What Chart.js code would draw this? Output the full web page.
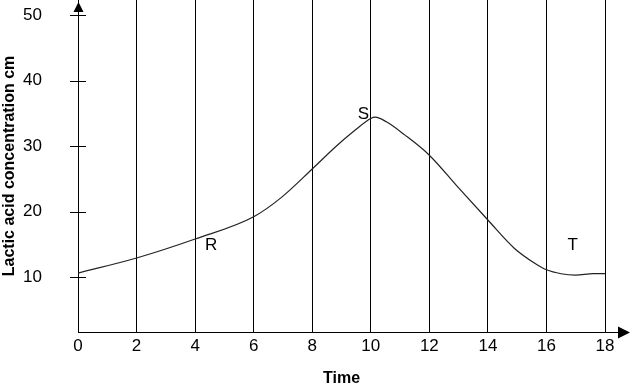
<!DOCTYPE html>
<html lang="en">
<head>
    <meta charset="UTF-8">
    <title>Lactic acid concentration</title>
    <style>
        html, body { margin: 0; padding: 0; background: #fff; }
        .chart-box { width: 631px; height: 386px; }
    </style>
    <script src="https://cdn.jsdelivr.net/npm/chart.js"></script>
</head>
<body>
  <div class="chart-box">
    <canvas id="lacticChart"></canvas>
  </div>
  <script>
    // data
    const timeValues = [0, 2, 4, 6, 6.96, 8, 8.8, 9.46, 10, 10.15, 10.53, 11.16, 12, 13, 14, 14.9, 15.6, 16, 16.5, 17, 17.6, 18];
    const lacticValues = [10.6, 12.9, 15.8, 19.2, 22.2, 26.5, 29.9, 32.4, 34.2, 34.4, 33.7, 31.7, 28.6, 23.6, 18.7, 14.4, 12.1, 11.1, 10.5, 10.3, 10.5, 10.5];
    const xTickValues = [0, 2, 4, 6, 8, 10, 12, 14, 16, 18];
    const yTickValues = [10, 20, 30, 40, 50];
    const markLetters = ['R', 'S', 'T'];
    const markTimes = [4.55, 9.75, 16.9];
    const markLevels = [14.9, 34.9, 14.9];

    const FONT = 'Liberation Sans, Arial, sans-serif';

    // tick marks across the y axis, arrow heads, letters R S T
    const axisExtrasPlugin = {
        id: 'axisExtras',
        afterDraw(chart) {
            const ctx = chart.ctx;
            const xs = chart.scales.x, ys = chart.scales.y;
            const x0 = xs.left, yb = ys.bottom;
            ctx.save();
            ctx.strokeStyle = '#000';
            ctx.fillStyle = '#000';
            ctx.lineWidth = 1;

            yTickValues.forEach(v => {
                const py = Math.round(ys.getPixelForValue(v)) + 0.5;
                ctx.beginPath();
                ctx.moveTo(x0 - 8, py);
                ctx.lineTo(x0 + 8, py);
                ctx.stroke();
            });

            // x axis runs on past 18
            ctx.beginPath();
            ctx.moveTo(xs.right, yb + 0.5);
            ctx.lineTo(chart.width - 8, yb + 0.5);
            ctx.stroke();
            ctx.beginPath();
            ctx.moveTo(chart.width - 1, yb + 0.5);
            ctx.lineTo(chart.width - 13, yb - 5.5);
            ctx.lineTo(chart.width - 13, yb + 6.5);
            ctx.closePath();
            ctx.fill();

            // arrow on top of y axis
            ctx.beginPath();
            ctx.moveTo(x0 + 0.5, 2);
            ctx.lineTo(x0 - 4.5, 12);
            ctx.lineTo(x0 + 5.5, 12);
            ctx.closePath();
            ctx.fill();

            ctx.font = '17px ' + FONT;
            ctx.textAlign = 'center';
            ctx.textBaseline = 'middle';
            markLetters.forEach((t, i) => {
                ctx.fillText(t, xs.getPixelForValue(markTimes[i]), ys.getPixelForValue(markLevels[i]));
            });
            ctx.restore();
        }
    };

    const points = timeValues.map((t, i) => ({ x: t, y: lacticValues[i] }));

    new Chart(document.getElementById('lacticChart'), {
        type: 'line',
        data: {
            datasets: [{
                data: points,
                borderColor: '#222',
                borderWidth: 1.2,
                pointRadius: 0,
                cubicInterpolationMode: 'monotone',
                fill: false
            }]
        },
        options: {
            responsive: true,
            maintainAspectRatio: false,
            animation: false,
            layout: { padding: { top: 0, right: 26, left: 0, bottom: 0 } },
            plugins: {
                legend: { display: false },
                tooltip: { enabled: false }
            },
            scales: {
                x: {
                    type: 'linear',
                    min: 0,
                    max: 18,
                    afterBuildTicks: s => { s.ticks = xTickValues.map(v => ({ value: v })); },
                    afterFit: s => { s.height = 54; },
                    grid: { color: '#000', lineWidth: 1, drawTicks: false },
                    border: { color: '#000', width: 1 },
                    ticks: { color: '#000', font: { family: FONT, size: 17 }, padding: 4, maxRotation: 0 },
                    title: {
                        display: true,
                        text: 'Time',
                        color: '#000',
                        font: { family: FONT, size: 16, weight: 'bold' },
                        padding: { top: 0, bottom: -2 }
                    }
                },
                y: {
                    type: 'linear',
                    min: 1.6,
                    max: 52.3,
                    afterBuildTicks: s => { s.ticks = yTickValues.map(v => ({ value: v })); },
                    afterFit: s => { s.width = 78; s.paddingTop = 0; s.paddingBottom = 0; },
                    grid: { drawOnChartArea: false, drawTicks: false },
                    border: { color: '#000', width: 1 },
                    ticks: { color: '#000', font: { family: FONT, size: 17 }, padding: 36 },
                    title: {
                        display: true,
                        text: 'Lactic acid concentration cm',
                        color: '#000',
                        font: { family: FONT, size: 16, weight: 'bold' },
                        padding: { top: 0, bottom: 0 }
                    }
                }
            }
        },
        plugins: [axisExtrasPlugin]
    });
  </script>
</body>
</html>
